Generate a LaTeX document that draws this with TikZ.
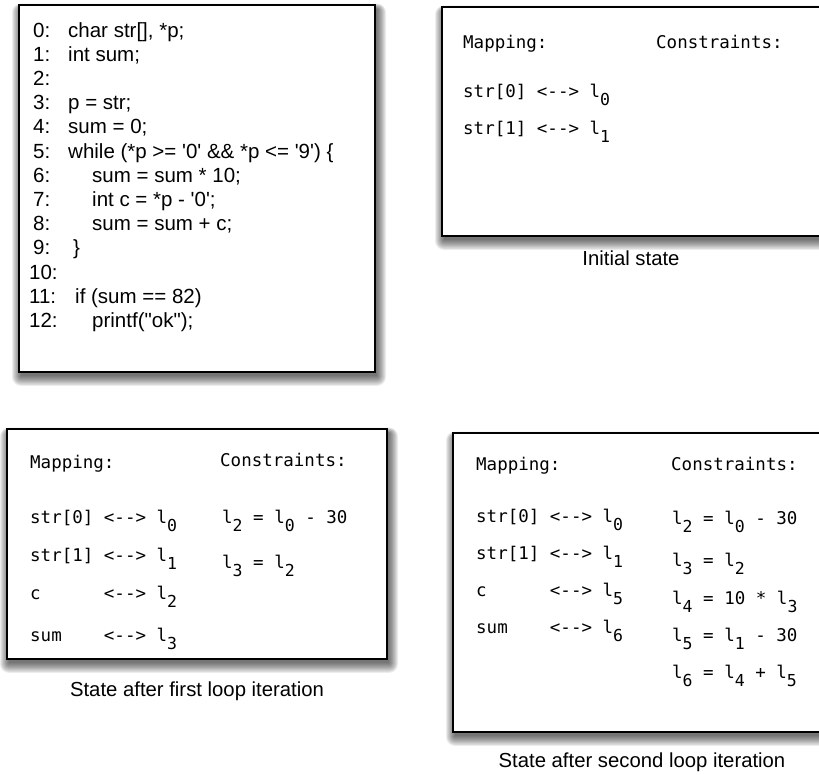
\documentclass[tikz,border=0pt]{standalone}
\usepackage{fontspec}
\usetikzlibrary{backgrounds}
\newfontfamily\codef{Liberation Sans}[Ligatures=TeXOff]
\newfontfamily\monof{DejaVu Sans Mono}[Ligatures=TeXOff]
\newcommand\lsub[1]{l\raisebox{-8pt}{\fontsize{16.5}{18}\selectfont #1}}
\newcommand\boxshadow[1]{%
  \foreach \k in {0,...,9}{%
    \fill[black,opacity=0.075,rounded corners={\k*1pt}]
      ([xshift={(2-\k)*1pt},yshift={(-4+0.6*\k)*1pt}]#1.north west) rectangle
      ([xshift={(2+\k)*1pt},yshift={(-4-1.1*\k)*1pt}]#1.south east);}}
\tikzset{
  boxframe/.style={draw=black, line width=1.4pt, fill=white, inner sep=0pt, outer sep=0pt, anchor=north west},
  codetxt/.style={anchor=base west, inner sep=0pt, font=\codef\fontsize{20.5}{24}\selectfont},
  monotxt/.style={anchor=base west, inner sep=0pt, font=\monof\fontsize{17.5}{21}\selectfont},
  captxt/.style={anchor=base, inner sep=0pt, font=\codef\fontsize{20.3}{24}\selectfont},
}
\begin{document}
\begin{tikzpicture}[x=1pt,y=-1pt]
\useasboundingbox (0,0) rectangle (819,774);
% boxes
\node[boxframe, minimum width=356pt, minimum height=367pt] (codebox) at (19,5) {};
\node[boxframe, minimum width=388pt, minimum height=229pt] (initbox) at (442,7) {};
\node[boxframe, minimum width=380pt, minimum height=230pt] (firstbox) at (7,429) {};
\node[boxframe, minimum width=377pt, minimum height=299pt] (secondbox) at (453,433) {};
\begin{pgfonlayer}{background}
  \boxshadow{codebox}
  \boxshadow{initbox}
  \boxshadow{firstbox}
  \boxshadow{secondbox}
\end{pgfonlayer}
% code
\node[codetxt] (n0) at (33,37.0) {0:};
\node[codetxt] (n1) at (33,61.2) {1:};
\node[codetxt] (n2) at (33,85.4) {2:};
\node[codetxt] (n3) at (33,109.6) {3:};
\node[codetxt] (n4) at (33,133.8) {4:};
\node[codetxt] (n5) at (33,158.0) {5:};
\node[codetxt] (n6) at (33,182.2) {6:};
\node[codetxt] (n7) at (33,206.4) {7:};
\node[codetxt] (n8) at (33,230.6) {8:};
\node[codetxt] (n9) at (33,254.8) {9:};
\node[codetxt] (n10) at (29,279.0) {10:};
\node[codetxt] (n11) at (29,303.2) {11:};
\node[codetxt] (n12) at (29,327.4) {12:};
\node[codetxt] (c0) at (68,37.0) {char str[], *p;};
\node[codetxt] (c1) at (68,61.2) {int sum;};
\node[codetxt] (c3) at (68,109.6) {p = str;};
\node[codetxt] (c4) at (68,133.8) {sum = 0;};
\node[codetxt] (c5) at (68,158.0) {while (*p >= '0' \&\& *p <= '9') \{};
\node[codetxt] (c6) at (92,182.2) {sum = sum * 10;};
\node[codetxt] (c7) at (92,206.4) {int c = *p - '0';};
\node[codetxt] (c8) at (92,230.6) {sum = sum + c;};
\node[codetxt] (c9) at (73,254.8) {\}};
\node[codetxt] (c11) at (75,303.2) {if (sum == 82)};
\node[codetxt] (c12) at (92,327.4) {printf("ok");};
% initial state
\node[monotxt] (im) at (463,48) {Mapping:};
\node[monotxt] (ic) at (656,48) {Constraints:};
\node[monotxt] (ir0) at (463,97) {str[0]~<-->~\lsub{0}};
\node[monotxt] (ir1) at (463,134) {str[1]~<-->~\lsub{1}};
\node[captxt] (icap) at (631,265) {Initial state};
% first iteration
\node[monotxt] (fm) at (30,468) {Mapping:};
\node[monotxt] (fc) at (220,466) {Constraints:};
\node[monotxt] (fr0) at (30,523) {str[0]~<-->~\lsub{0}};
\node[monotxt] (fr1) at (30,561) {str[1]~<-->~\lsub{1}};
\node[monotxt] (fr2) at (30,599) {c~~~~~~<-->~\lsub{2}};
\node[monotxt] (fr3) at (30,641) {sum~~~~<-->~\lsub{3}};
\node[monotxt] (fk0) at (222,523) {\lsub{2}~=~\lsub{0}~-~30};
\node[monotxt] (fk1) at (222,568) {\lsub{3}~=~\lsub{2}};
\node[captxt] (fcap) at (197,696) {State after first loop iteration};
% second iteration
\node[monotxt] (sm) at (476,470) {Mapping:};
\node[monotxt] (sc) at (671,470) {Constraints:};
\node[monotxt] (sr0) at (476,522) {str[0]~<-->~\lsub{0}};
\node[monotxt] (sr1) at (476,559) {str[1]~<-->~\lsub{1}};
\node[monotxt] (sr2) at (476,596) {c~~~~~~<-->~\lsub{5}};
\node[monotxt] (sr3) at (476,633) {sum~~~~<-->~\lsub{6}};
\node[monotxt] (sk0) at (672,524) {\lsub{2}~=~\lsub{0}~-~30};
\node[monotxt] (sk1) at (672,566) {\lsub{3}~=~\lsub{2}};
\node[monotxt] (sk2) at (672,604) {\lsub{4}~=~10~*~\lsub{3}};
\node[monotxt] (sk3) at (672,641) {\lsub{5}~=~\lsub{1}~-~30};
\node[monotxt] (sk4) at (672,678) {\lsub{6}~=~\lsub{4}~+~\lsub{5}};
\node[captxt] (scap) at (642,767) {State after second loop iteration};
\end{tikzpicture}
\end{document}
